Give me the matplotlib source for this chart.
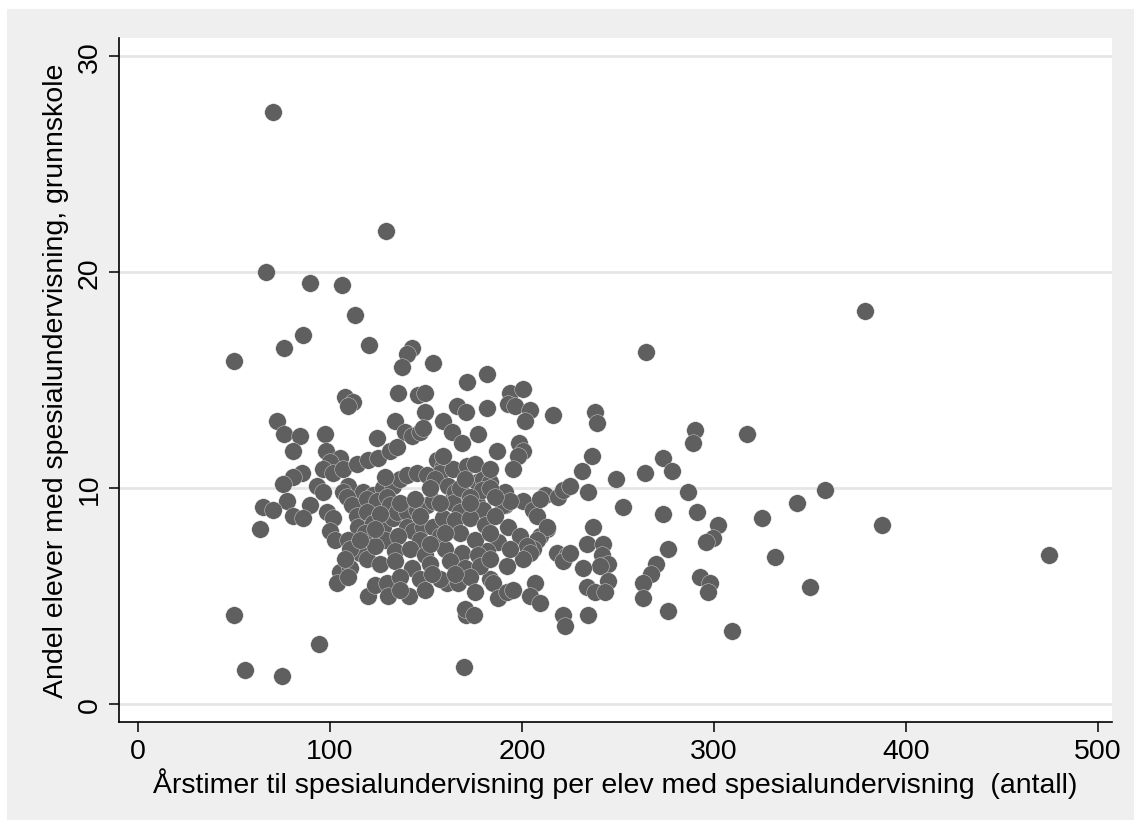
import numpy as np
import matplotlib
matplotlib.use('Agg')
import matplotlib.pyplot as plt
from matplotlib.patches import Rectangle

plt.rcParams['font.family'] = ['Liberation Sans', 'DejaVu Sans']

# timer per elev (x) og andel elever med spesialundervisning (y)
timer = [
    70.3, 129.2, 66.7, 89.6, 106.3, 113.0, 378.6, 85.9, 50.0, 76.0,
    120.3, 142.7, 140.1, 137.5, 153.6, 264.6, 171.4, 181.8, 107.8, 112.0,
    109.4, 135.4, 145.8, 149.5, 149.5, 166.1, 170.8, 181.8, 193.8, 200.5,
    192.7, 196.4, 204.2, 201.6, 216.1, 238.0, 239.1, 72.4, 76.0, 84.4,
    97.4, 80.7, 124.5, 133.9, 139.1, 142.7, 146.9, 148.4, 158.9, 163.5,
    168.8, 177.1, 187.0, 198.4, 200.5, 197.9, 195.3, 290.1, 289.1, 317.2,
    236.5, 231.3, 273.4, 278.1, 264.1, 249.0, 286.5, 234.4, 212.0, 218.8,
    221.4, 191.1, 191.1, 252.6, 273.4, 291.1, 325.0, 343.2, 357.8, 302.1,
    299.5, 295.8, 387.5, 331.8, 350.0, 474.5, 276.0, 269.8, 267.2, 263.0,
    263.0, 292.7, 297.9, 296.9, 276.0, 309.4, 234.4, 221.4, 222.4, 50.0,
    55.7, 75.0, 94.3, 169.8, 170.8, 170.3, 175.0, 97.9, 105.2, 100.0,
    96.4, 101.6, 106.8, 85.4, 80.7, 75.5, 93.2, 96.4, 77.6, 65.1,
    70.3, 89.6, 80.7, 85.9, 63.5, 98.4, 101.6, 100.0, 102.6, 114.1,
    119.8, 125.0, 131.3, 134.9, 155.7, 158.9, 157.3, 109.4, 106.8, 117.2,
    122.4, 127.6, 132.8, 136.5, 140.1, 145.3, 150.5, 154.7, 108.9, 111.5,
    114.1, 114.6, 119.3, 124.5, 129.7, 131.3, 119.3, 122.4, 127.6, 132.8,
    134.9, 140.1, 145.3, 150.5, 153.6, 140.1, 143.2, 148.4, 153.6, 158.9,
    161.5, 164.1, 165.1, 176.6, 179.7, 183.3, 164.1, 171.4, 175.5, 183.3,
    200.5, 205.7, 207.8, 213.0, 209.4, 115.6, 119.3, 105.2, 110.4, 103.6,
    109.4, 119.8, 123.4, 129.7, 130.2, 141.1, 160.9, 157.3, 164.1, 176.6,
    179.7, 190.1, 193.8, 209.4, 213.0, 207.8, 205.7, 218.2, 223.4, 221.4,
    192.7, 199.0, 202.6, 204.2, 200.5, 187.5, 181.8, 192.2, 183.3, 184.9,
    187.5, 192.2, 195.3, 206.8, 204.2, 209.4, 237.0, 233.9, 242.2, 225.0,
    241.7, 244.8, 240.6, 231.8, 244.8, 233.9, 238.0, 243.2, 225.0, 158.9,
    179.2, 183.3, 136.5, 144.3, 157.3, 167.7, 126.0, 165.1, 172.9, 180.7,
    185.9, 109.4, 118.2, 128.6, 135.4, 146.9, 157.3, 167.7, 175.5, 183.3,
    110.4, 123.4, 133.9, 141.7, 149.5, 159.9, 168.8, 177.1, 126.0, 133.9,
    142.7, 152.1, 162.5, 170.3, 178.1, 136.5, 146.9, 153.1, 166.7, 172.9,
    152.1, 167.7, 172.9, 185.9, 123.4, 159.9, 172.9, 146.9, 115.6, 152.1,
    165.1, 183.3, 193.8, 107.8, 136.5, 149.5, 175.5, 128.6, 170.3,
]
andel = [
    27.4, 21.9, 20.0, 19.5, 19.4, 18.0, 18.2, 17.1, 15.9, 16.5,
    16.6, 16.5, 16.2, 15.6, 15.8, 16.3, 14.9, 15.3, 14.2, 14.0,
    13.8, 14.4, 14.3, 14.4, 13.5, 13.8, 13.5, 13.7, 14.4, 14.6,
    13.9, 13.8, 13.6, 13.1, 13.4, 13.5, 13.0, 13.1, 12.5, 12.4,
    12.5, 11.7, 12.3, 13.1, 12.6, 12.4, 12.6, 12.8, 13.1, 12.6,
    12.1, 12.5, 11.7, 12.1, 11.7, 11.5, 10.9, 12.7, 12.1, 12.5,
    11.5, 10.8, 11.4, 10.8, 10.7, 10.4, 9.8, 9.8, 9.7, 9.6,
    9.9, 9.8, 9.2, 9.1, 8.8, 8.9, 8.6, 9.3, 9.9, 8.3,
    7.7, 7.5, 8.3, 6.8, 5.4, 6.9, 7.2, 6.5, 6.0, 5.6,
    4.9, 5.9, 5.6, 5.2, 4.3, 3.4, 4.1, 4.1, 3.6, 4.1,
    1.6, 1.3, 2.8, 1.7, 4.1, 4.4, 4.1, 11.7, 11.4, 11.2,
    10.9, 10.7, 10.9, 10.7, 10.5, 10.2, 10.1, 9.8, 9.4, 9.1,
    9.0, 9.2, 8.7, 8.6, 8.1, 8.9, 8.6, 8.0, 7.6, 11.1,
    11.3, 11.4, 11.7, 11.9, 11.3, 11.0, 10.7, 10.1, 9.8, 9.8,
    9.7, 10.0, 10.1, 10.4, 10.6, 10.7, 10.6, 10.4, 9.6, 9.2,
    8.7, 8.2, 9.5, 9.4, 9.6, 9.2, 8.9, 8.4, 8.2, 8.6,
    8.9, 8.9, 9.0, 9.2, 9.4, 8.2, 8.0, 8.2, 8.2, 8.6,
    10.1, 9.5, 9.8, 10.3, 10.4, 10.3, 10.9, 11.0, 11.1, 10.9,
    9.4, 9.0, 8.7, 8.1, 7.8, 7.0, 6.7, 6.1, 6.3, 5.6,
    5.9, 5.0, 5.5, 5.6, 5.0, 5.0, 5.6, 5.8, 9.3, 9.3,
    9.0, 9.2, 9.4, 9.5, 8.2, 7.6, 7.2, 7.0, 6.9, 6.6,
    8.2, 7.8, 7.3, 7.0, 6.7, 7.5, 7.1, 6.4, 5.8, 5.6,
    4.9, 5.2, 5.3, 5.6, 5.0, 4.7, 8.2, 7.4, 7.4, 7.0,
    6.9, 6.5, 6.4, 6.3, 5.7, 5.4, 5.2, 5.2, 10.1, 11.5,
    9.9, 10.0, 9.3, 9.5, 9.3, 8.9, 8.8, 8.5, 8.6, 8.3,
    8.7, 7.6, 7.9, 7.6, 7.8, 7.6, 7.8, 7.9, 7.6, 7.9,
    7.2, 7.3, 7.1, 7.2, 6.9, 7.2, 7.0, 6.9, 6.5, 6.6,
    6.3, 6.5, 6.6, 6.3, 6.4, 5.9, 5.8, 6.0, 5.6, 5.9,
    10.0, 10.0, 9.6, 9.6, 8.1, 7.9, 9.3, 8.7, 7.6, 7.4,
    6.0, 6.7, 7.2, 6.7, 5.3, 5.3, 5.2, 10.5, 10.4,
]

W, H = 1141, 828
fig = plt.figure(figsize=(W / 100, H / 100), dpi=100, facecolor='white')
# grå bakgrunn rundt plottområdet
fig.patches.append(Rectangle((7 / W, 7 / H), 1127 / W, 811 / H, transform=fig.transFigure,
                             facecolor='#efefef', edgecolor='none', zorder=-1))

ax = fig.add_axes([119 / W, 1 - 723 / H, (1112 - 119) / W, (723 - 39) / H])
ax.set_facecolor('white')
ax.scatter(timer, andel, s=160, c='#5f5f5f', edgecolors='#f4f4f4', linewidths=0.25, zorder=3)

ax.set_xlim(-9.9, 507.3)
ax.set_ylim(-0.83, 30.83)
ax.set_xticks([0, 100, 200, 300, 400, 500])
ax.set_yticks([0, 10, 20, 30])
ax.yaxis.grid(True, color='#e6e6e6', lw=2)
ax.set_axisbelow(True)
for s in ['top', 'right']:
    ax.spines[s].set_visible(False)
for s in ['left', 'bottom']:
    ax.spines[s].set_linewidth(1.2)
ax.tick_params(length=7.5, width=1.1, labelsize=20.5, pad=4)
ax.tick_params(axis='y', labelrotation=90)
for lab in ax.get_yticklabels():
    lab.set_va('center')

ax.set_xlabel('Årstimer til spesialundervisning per elev med spesialundervisning  (antall)',
              fontsize=20.5, labelpad=2)
ax.set_ylabel('Andel elever med spesialundervisning, grunnskole', fontsize=20.5, labelpad=6)

fig.savefig('out.png', dpi=100, facecolor='white')
